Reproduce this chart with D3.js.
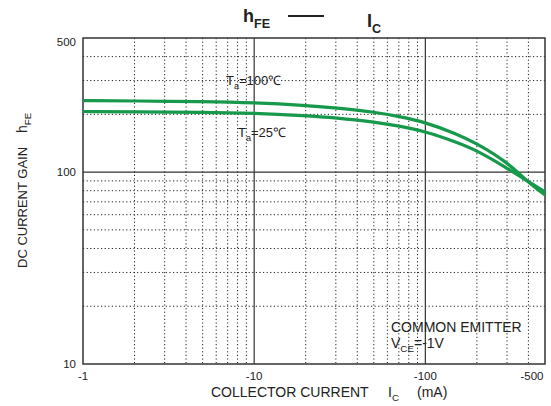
<!DOCTYPE html>
<html>
<head>
<meta charset="utf-8">
<script src="https://cdn.jsdelivr.net/npm/d3@7"></script>
<style>
  html, body { margin: 0; padding: 0; background: #fff; }
  svg { display: block; font-family: Arial, "Liberation Sans", sans-serif; }
</style>
</head>
<body>
<div id="chart"></div>
<script>
// collector current |Ic| in mA
const current = [1, 2, 5, 10, 20, 30, 50, 70, 100, 150, 200, 300, 384, 500];
// hFE readings
const hfe100 = [236, 235, 233, 230, 223, 216, 206, 195, 182, 159, 141, 113, 91, 76];
const hfe25 = [207, 206, 205, 203, 197, 192, 183, 174, 163, 144, 130, 105, 91, 79];

const xTickValues = [1, 10, 100, 500];
const xTickLabels = ["-1", "-10", "-100", "-500"];
const yTickValues = [10, 100, 500];
const yTickLabels = ["10", "100", "500"];

const width = 551, height = 406;
const plotLeft = 83, plotRight = 545, plotTop = 38, plotBottom = 364;

const x = d3.scaleLog().domain([1, 500]).range([plotLeft, plotRight]);
const y = d3.scaleLog().domain([10, 500]).range([plotBottom, plotTop]);

const svg = d3.select("#chart").append("svg")
  .attr("width", width).attr("height", height)
  .attr("viewBox", `0 0 ${width} ${height}`);

const grid = svg.append("g");

// minor (dotted) grid
const xMinor = x.ticks().filter(v => ![1, 10, 100, 500].includes(v));
const yMinor = y.ticks().filter(v => ![10, 100, 500].includes(v));

grid.selectAll("line.xminor")
  .data(xMinor)
  .join("line")
  .attr("class", "xminor")
  .attr("x1", d => x(d)).attr("x2", d => x(d))
  .attr("y1", plotTop).attr("y2", plotBottom)
  .attr("stroke", "#222").attr("stroke-width", 1)
  .attr("stroke-dasharray", "1.2,2.4");

grid.selectAll("line.yminor")
  .data(yMinor)
  .join("line")
  .attr("class", "yminor")
  .attr("x1", plotLeft).attr("x2", plotRight)
  .attr("y1", d => y(d)).attr("y2", d => y(d))
  .attr("stroke", "#222").attr("stroke-width", 1)
  .attr("stroke-dasharray", "1.2,2.4");

// major (solid) grid
grid.selectAll("line.xmajor")
  .data([10, 100])
  .join("line")
  .attr("class", "xmajor")
  .attr("x1", d => x(d)).attr("x2", d => x(d))
  .attr("y1", plotTop).attr("y2", plotBottom)
  .attr("stroke", "#333").attr("stroke-width", 1.2);

grid.selectAll("line.ymajor")
  .data([100])
  .join("line")
  .attr("class", "ymajor")
  .attr("x1", plotLeft).attr("x2", plotRight)
  .attr("y1", d => y(d)).attr("y2", d => y(d))
  .attr("stroke", "#333").attr("stroke-width", 1.2);

// frame
svg.append("rect")
  .attr("x", plotLeft).attr("y", plotTop)
  .attr("width", plotRight - plotLeft).attr("height", plotBottom - plotTop)
  .attr("fill", "none").attr("stroke", "#333").attr("stroke-width", 1.5);

// curves
const line = d3.line()
  .x(d => x(d[0]))
  .y(d => y(d[1]))
  .curve(d3.curveBasis);

[hfe100, hfe25].forEach(series => {
  svg.append("path")
    .datum(current.map((c, i) => [c, series[i]]))
    .attr("d", line)
    .attr("fill", "none")
    .attr("stroke", "#17994b")
    .attr("stroke-width", 3.2)
    .attr("stroke-linecap", "butt");
});

// tick labels
svg.selectAll("text.xtick")
  .data(xTickValues)
  .join("text")
  .attr("class", "xtick")
  .attr("x", (d, i) => i === 3 ? x(d) - 13 : x(d))
  .attr("y", 380)
  .attr("text-anchor", "middle")
  .attr("font-size", 11.5)
  .attr("fill", "#222")
  .text((d, i) => xTickLabels[i]);

svg.selectAll("text.ytick")
  .data(yTickValues)
  .join("text")
  .attr("class", "ytick")
  .attr("x", 76)
  .attr("y", (d, i) => y(d) + (i === 2 ? 8 : 4))
  .attr("text-anchor", "end")
  .attr("font-size", 11.5)
  .attr("fill", "#222")
  .text((d, i) => yTickLabels[i]);

// helper for text with subscript
function subText(g, px, py, main, sub, rest, size, weight) {
  const t = g.append("text")
    .attr("x", px).attr("y", py)
    .attr("font-size", size)
    .attr("font-weight", weight || "normal")
    .attr("fill", "#222");
  t.append("tspan").text(main);
  t.append("tspan").attr("dy", size * 0.32).attr("font-size", size * 0.7).text(sub);
  if (rest) t.append("tspan").attr("dy", -size * 0.32).text(rest);
  return t;
}

// title
subText(svg, 243, 22, "h", "FE", null, 18, "bold");
svg.append("line")
  .attr("x1", 288).attr("x2", 324)
  .attr("y1", 16).attr("y2", 16)
  .attr("stroke", "#222").attr("stroke-width", 2);
subText(svg, 367, 27, "I", "C", null, 18, "bold");

// axis titles
svg.append("text")
  .attr("x", 211).attr("y", 397)
  .attr("font-size", 14)
  .attr("fill", "#222")
  .text("COLLECTOR CURRENT");
subText(svg, 388, 397, "I", "C", null, 14);
svg.append("text")
  .attr("x", 417).attr("y", 397)
  .attr("font-size", 14)
  .attr("fill", "#222")
  .text("(mA)");

const yt = svg.append("g").attr("transform", "translate(27,268) rotate(-90)");
yt.append("text")
  .attr("x", 0).attr("y", 0)
  .attr("font-size", 13)
  .attr("fill", "#222")
  .text("DC CURRENT GAIN");
subText(yt, 135, 0, "h", "FE", null, 14);

// annotations
subText(svg, 226, 85, "T", "a", "=100\u2103", 13);
subText(svg, 238, 137, "T", "a", "=25\u2103", 13);

svg.append("text")
  .attr("x", 391).attr("y", 332)
  .attr("font-size", 14)
  .attr("fill", "#222")
  .text("COMMON EMITTER");
subText(svg, 391, 348, "V", "CE", "=-1V", 14);
</script>
</body>
</html>
